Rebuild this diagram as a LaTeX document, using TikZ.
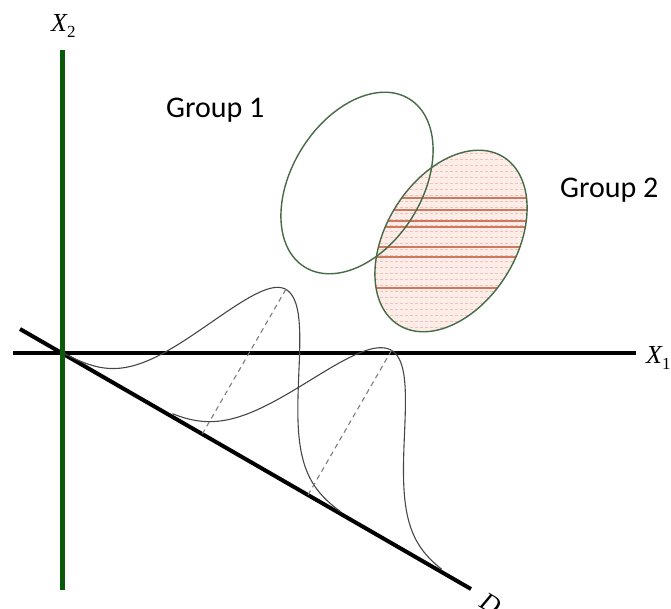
\documentclass[tikz,border=0pt]{standalone}
\usepackage{fontspec}
\newfontfamily\tnr{Liberation Serif}
\newfontfamily\grpfont{Carlito}
\definecolor{axgreen}{RGB}{10,90,10}
\definecolor{ellgreen}{RGB}{70,105,70}
\definecolor{pinkfill}{RGB}{252,237,233}
\definecolor{pinkdash}{RGB}{240,195,185}
\definecolor{stripecol}{RGB}{205,120,95}
\definecolor{bellcol}{RGB}{70,70,70}
\definecolor{dashcol}{RGB}{125,125,125}
\begin{document}
\begin{tikzpicture}[x=1pt,y=-1pt,
  declare function={
    sa(\t)=48+5*(\t>162);
    ga(\t)=167*exp(-0.5*((\t-162)/sa(\t))*((\t-162)/sa(\t)));
    sb(\t)=55-2*(\t>284);
    gb(\t)=167*exp(-0.5*((\t-284)/sb(\t))*((\t-284)/sb(\t)));
  },
  axisline/.style={line width=4pt,black},
  greenaxis/.style={line width=5pt,axgreen},
  ellline/.style={line width=1.4pt,ellgreen},
  bell/.style={line width=1.1pt,bellcol},
  projdash/.style={line width=1.1pt,dashcol,dash pattern=on 5pt off 4pt},
  stripe/.style={line width=2pt,stripecol},
  faint/.style={line width=0.8pt,pinkdash,dash pattern=on 3pt off 2pt},
  grplabel/.style={font=\grpfont\fontsize{30}{34}\selectfont,inner sep=0pt,anchor=base west},
  axlabel/.style={font=\tnr\fontsize{26}{30}\selectfont\itshape,inner sep=0pt}
]
\useasboundingbox (0,0) rectangle (671,609);

% coordinates
\coordinate (O) at (62,353);
\coordinate (xs) at (13,353);
\coordinate (xe) at (636,353);
\coordinate (ys) at (62,50);
\coordinate (ye) at (62,590);
\coordinate (ds) at (20,329);
\coordinate (de) at (471,589);
\coordinate (c1) at (357,183);
\coordinate (c2) at (451,241);

% filled group 2 ellipse
\begin{scope}
  \clip[rotate around={58:(c2)}] (c2) ellipse [x radius=99pt, y radius=65pt];
  \fill[pinkfill] (360,140) rectangle (540,345);
  \foreach \y in {153,159,...,339} \draw[faint] (360,\y) -- (540,\y);
  \foreach \y in {198,210,221,227,247,257,288} \draw[stripe] (360,\y) -- (540,\y);
\end{scope}
\draw[ellline, rotate around={58:(c2)}] (c2) ellipse [x radius=99pt, y radius=65pt];
\draw[ellline, rotate around={58:(c1)}] (c1) ellipse [x radius=99pt, y radius=65pt];

% axes
\draw[axisline] (xs) -- (xe);
\draw[axisline] (ds) -- (de);

% bell curves
\draw[bell] plot[domain=0:321, samples=140, smooth] ({62+0.866*\x+0.5*ga(\x)},{353+0.5*\x-0.866*ga(\x)});
\draw[bell] plot[domain=126:437, samples=140, smooth] ({62+0.866*\x+0.5*gb(\x)},{353+0.5*\x-0.866*gb(\x)});

% projection dashes
\coordinate (p1) at (285.8,289.4);
\coordinate (b1) at (202.3,434);
\coordinate (p2) at (391.5,350.4);
\coordinate (b2) at (308,495);
\draw[projdash] (p1) -- (b1);
\draw[projdash] (p2) -- (b2);

\draw[greenaxis] (ys) -- (ye);

% labels
\node[axlabel,anchor=base west] (lx2) at (51,32) {X\raisebox{-6pt}{\upshape\fontsize{17}{20}\selectfont 2}};
\node[axlabel,anchor=base west] (lx1) at (646,363) {X\raisebox{-6pt}{\upshape\fontsize{17}{20}\selectfont 1}};
\node[axlabel,rotate=-30] (ld) at (491,604) {D};
\node[grplabel] (lg1) at (166,118) {Group 1};
\node[grplabel] (lg2) at (560,198) {Group 2};
\end{tikzpicture}
\end{document}
